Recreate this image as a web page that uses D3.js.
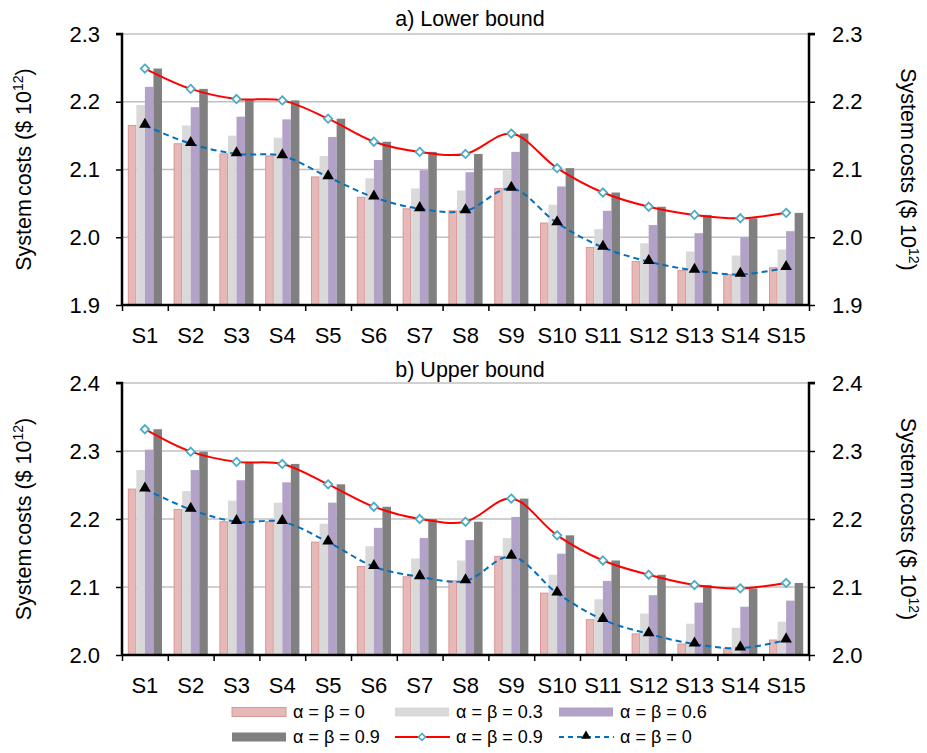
<!DOCTYPE html>
<html>
<head>
<meta charset="utf-8">
<script src="https://cdn.jsdelivr.net/npm/d3@7"></script>
<style>
  body { margin: 0; background: #fff; }
  text { font-family: "Liberation Sans", Arial, sans-serif; fill: #000; }
</style>
</head>
<body>
<svg id="chart" width="927" height="753"></svg>
<script>
const cats = ['S1','S2','S3','S4','S5','S6','S7','S8','S9','S10','S11','S12','S13','S14','S15'];

// a) lower bound
const lowerA0 = [2.165,2.138,2.123,2.120,2.089,2.059,2.042,2.039,2.072,2.021,1.985,1.964,1.951,1.945,1.955];
const lowerA3 = [2.195,2.165,2.150,2.147,2.120,2.087,2.072,2.069,2.099,2.048,2.012,1.991,1.979,1.973,1.982];
const lowerA6 = [2.222,2.192,2.178,2.174,2.148,2.114,2.099,2.096,2.126,2.075,2.039,2.018,2.006,2.000,2.009];
const lowerA9 = [2.249,2.219,2.204,2.202,2.175,2.141,2.126,2.123,2.153,2.102,2.066,2.045,2.033,2.028,2.036];
const lowerTicks = [1.9, 2.0, 2.1, 2.2, 2.3];

// b) upper bound
const upperA0 = [2.244,2.214,2.196,2.196,2.166,2.130,2.115,2.109,2.145,2.091,2.052,2.031,2.016,2.010,2.022];
const upperA3 = [2.272,2.241,2.227,2.224,2.193,2.160,2.142,2.139,2.172,2.118,2.082,2.061,2.046,2.040,2.049];
const upperA6 = [2.302,2.272,2.257,2.254,2.224,2.187,2.172,2.169,2.203,2.149,2.109,2.088,2.077,2.071,2.080];
const upperA9 = [2.332,2.299,2.284,2.281,2.251,2.218,2.200,2.196,2.230,2.176,2.139,2.118,2.103,2.098,2.106];
const upperTicks = [2.0, 2.1, 2.2, 2.3, 2.4];

const barNames = ['α = β = 0', 'α = β = 0.3', 'α = β = 0.6', 'α = β = 0.9'];
const barFill = ['#e6b9b8', '#d9d9d9', '#b3a2c7', '#808080'];
const barStroke = ['#d99694', 'none', 'none', 'none'];

const svg = d3.select('#chart');
const left = 122, right = 809;

function drawPanel(title, titleY, top, bottom, ticks, series) {
  const g = svg.append('g');
  const x0 = d3.scaleBand().domain(cats).range([left, right]);
  const x1 = d3.scaleBand().domain(d3.range(4)).range([0, x0.bandwidth()]).paddingOuter(0.68);
  const y = d3.scaleLinear().domain([ticks[0], ticks[ticks.length - 1]]).range([bottom, top]);

  // gridlines
  g.selectAll('.grid').data(ticks.slice(1)).join('line')
    .attr('x1', left).attr('x2', right)
    .attr('y1', d => y(d)).attr('y2', d => y(d))
    .attr('stroke', '#c0c0c0').attr('stroke-width', 1.5);

  // bars
  const groups = g.selectAll('.cat').data(cats).join('g')
    .attr('transform', d => `translate(${x0(d)},0)`);
  groups.selectAll('rect').data((d, i) => series.map((s, k) => ({ k, v: s[i] }))).join('rect')
    .attr('x', d => x1(d.k) + (d.k === 0 ? 0.5 : 0))
    .attr('width', d => x1.bandwidth() - (d.k === 0 ? 1 : 0))
    .attr('y', d => y(d.v))
    .attr('height', d => bottom - y(d.v))
    .attr('fill', d => barFill[d.k])
    .attr('stroke', d => barStroke[d.k])
    .attr('stroke-width', 1);

  const cx = d => x0(d) + x0.bandwidth() / 2;

  // lines
  const line = d3.line().x((d, i) => cx(cats[i])).y(d => y(d)).curve(d3.curveCatmullRom.alpha(0.5));
  g.append('path').attr('d', line(series[3])).attr('fill', 'none')
    .attr('stroke', '#ff0000').attr('stroke-width', 2);
  g.append('path').attr('d', line(series[0])).attr('fill', 'none')
    .attr('stroke', '#0070c0').attr('stroke-width', 2).attr('stroke-dasharray', '6,4');

  g.selectAll('.dia').data(series[3]).join('path')
    .attr('d', d3.symbol(d3.symbolDiamond2, 44))
    .attr('transform', (d, i) => `translate(${cx(cats[i])},${y(d)})`)
    .attr('fill', '#fff').attr('stroke', '#4bacc6').attr('stroke-width', 1.8);
  g.selectAll('.tri').data(series[0]).join('path')
    .attr('d', d3.symbol(d3.symbolTriangle, 58))
    .attr('transform', (d, i) => `translate(${cx(cats[i])},${y(d) - 1})`)
    .attr('fill', '#000');

  // axes
  const fmt = d3.format('.1f');
  const la = g.append('g').attr('transform', `translate(${left},0)`)
    .call(d3.axisLeft(y).tickValues(ticks).tickFormat(fmt).tickSize(6).tickPadding(16));
  const ra = g.append('g').attr('transform', `translate(${right},0)`)
    .call(d3.axisRight(y).tickValues(ticks).tickFormat(fmt).tickSize(6).tickPadding(17));
  const xb = d3.scaleLinear().domain([0, cats.length]).range([left, right]);
  const ba = g.append('g').attr('transform', `translate(0,${bottom})`)
    .call(d3.axisBottom(xb).tickValues(d3.range(cats.length + 1)).tickFormat('').tickSize(6));
  [la, ra, ba].forEach(a => {
    a.select('.domain').attr('stroke', '#000').attr('stroke-width', 2.5);
    a.selectAll('.tick line').attr('stroke', '#000').attr('stroke-width', 1.5);
    a.selectAll('text').style('font-size', '22px').attr('fill', '#000');
  });
  la.select('.domain').attr('d', `M-6,${top}H0V${bottom}`);
  ra.select('.domain').attr('d', `M6,${top}H0V${bottom}`);
  ba.select('.domain').attr('d', `M${left},0H${right}`);

  g.selectAll('.catlab').data(cats).join('text')
    .attr('x', d => cx(d)).attr('y', bottom + 38)
    .attr('text-anchor', 'middle').style('font-size', '22px').text(d => d);

  g.append('text').attr('x', 470).attr('y', titleY).attr('text-anchor', 'middle')
    .style('font-size', '21.5px').text(title);

  const mid = (top + bottom) / 2;
  [[23, -90], [909, 90]].forEach(([tx, rot]) => {
    const t = g.append('text').attr('transform', `translate(${tx},${mid}) rotate(${rot})`)
      .attr('text-anchor', 'middle').attr('dy', '0.35em').style('font-size', '21.5px');
    t.append('tspan').text('System');
    t.append('tspan').attr('dx', -3).text(' costs ($ 10');
    t.append('tspan').attr('dy', -8).style('font-size', '14px').text('12');
    t.append('tspan').attr('dy', 8).text(')');
  });
}

drawPanel('a) Lower bound', 26, 34, 305, lowerTicks, [lowerA0, lowerA3, lowerA6, lowerA9]);
drawPanel('b) Upper bound', 377, 383, 655, upperTicks, [upperA0, upperA3, upperA6, upperA9]);

// legend
const legendItems = [
  { name: barNames[0], type: 'bar', k: 0 },
  { name: barNames[1], type: 'bar', k: 1 },
  { name: barNames[2], type: 'bar', k: 2 },
  { name: barNames[3], type: 'bar', k: 3 },
  { name: 'α = β = 0.9', type: 'red' },
  { name: 'α = β = 0', type: 'blue' }
];
const lg = svg.append('g');
const colX = [232, 395, 559], rowY = [712, 737];
legendItems.forEach((it, i) => {
  const x = colX[i % 3], yy = rowY[Math.floor(i / 3)];
  const item = lg.append('g').attr('transform', `translate(${x},${yy})`);
  if (it.type === 'bar') {
    item.append('rect').attr('x', 0).attr('y', -4.5).attr('width', 54).attr('height', 9)
      .attr('fill', barFill[it.k]).attr('stroke', barStroke[it.k]);
  } else if (it.type === 'red') {
    item.append('line').attr('x1', 0).attr('x2', 55).attr('stroke', '#ff0000').attr('stroke-width', 2);
    item.append('path').attr('d', d3.symbol(d3.symbolDiamond2, 30)).attr('transform', 'translate(27,0)')
      .attr('fill', '#fff').attr('stroke', '#4bacc6').attr('stroke-width', 1.6);
  } else {
    item.append('line').attr('x1', 0).attr('x2', 55).attr('stroke', '#0070c0').attr('stroke-width', 2)
      .attr('stroke-dasharray', '5,4');
    item.append('path').attr('d', d3.symbol(d3.symbolTriangle, 40)).attr('transform', 'translate(27,-1)')
      .attr('fill', '#000');
  }
  item.append('text').attr('x', 61).attr('dy', '0.35em').style('font-size', '18px').text(it.name);
});
</script>
</body>
</html>
